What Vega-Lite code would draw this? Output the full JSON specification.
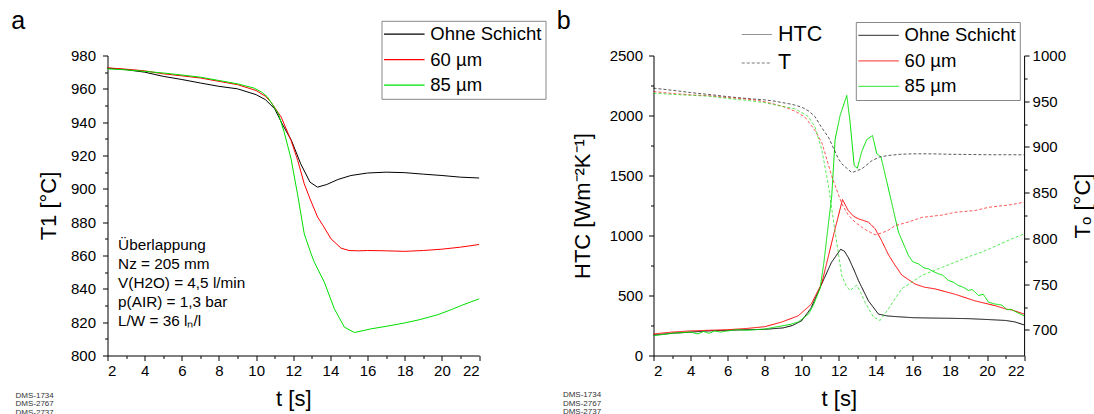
{
  "$schema": "https://vega.github.io/schema/vega-lite/v6.json",
  "padding": {"left": 10.5, "top": 8.5, "right": 0, "bottom": 0},
  "autosize": {"type": "pad"},
  "spacing": 174,
  "bounds": "flush",
  "config": {
    "font": "Liberation Sans",
    "view": {"stroke": null},
    "axis": {"domainColor": "#000", "tickColor": "#000", "labelColor": "#000", "titleColor": "#000", "grid": false, "labelFontSize": 15, "titleFontSize": 22, "titleFontWeight": "normal", "tickSize": 5, "format": "d", "labelFont": "Liberation Sans", "titleFont": "Liberation Sans"},
    "legend": {"labelFont": "Liberation Sans", "labelColor": "#000"}
  },
  "resolve": {"scale": {"color": "independent", "strokeDash": "independent"}, "legend": {"color": "independent", "strokeDash": "independent"}},
  "datasets": {
    "left": [
      {"t": 2.0, "T1": 972.4, "s": "Ohne Schicht"}, {"t": 3.0, "T1": 971.5, "s": "Ohne Schicht"}, {"t": 4.0, "T1": 970, "s": "Ohne Schicht"}, {"t": 5.0, "T1": 967.5, "s": "Ohne Schicht"}, {"t": 6.0, "T1": 965.6, "s": "Ohne Schicht"}, {"t": 7.0, "T1": 963.5, "s": "Ohne Schicht"}, {"t": 8.0, "T1": 961.5, "s": "Ohne Schicht"}, {"t": 9.0, "T1": 960, "s": "Ohne Schicht"}, {"t": 10.0, "T1": 956.5, "s": "Ohne Schicht"}, {"t": 10.5, "T1": 953.5, "s": "Ohne Schicht"}, {"t": 11.0, "T1": 948, "s": "Ohne Schicht"}, {"t": 11.4, "T1": 939, "s": "Ohne Schicht"}, {"t": 11.9, "T1": 929, "s": "Ohne Schicht"}, {"t": 12.4, "T1": 915, "s": "Ohne Schicht"}, {"t": 12.9, "T1": 904, "s": "Ohne Schicht"}, {"t": 13.3, "T1": 901, "s": "Ohne Schicht"}, {"t": 13.8, "T1": 902.6, "s": "Ohne Schicht"}, {"t": 14.4, "T1": 905.6, "s": "Ohne Schicht"}, {"t": 15.1, "T1": 908, "s": "Ohne Schicht"}, {"t": 16.0, "T1": 909.5, "s": "Ohne Schicht"}, {"t": 17.0, "T1": 910, "s": "Ohne Schicht"}, {"t": 18.0, "T1": 909.7, "s": "Ohne Schicht"}, {"t": 19.0, "T1": 908.8, "s": "Ohne Schicht"}, {"t": 20.0, "T1": 908, "s": "Ohne Schicht"}, {"t": 21.0, "T1": 907, "s": "Ohne Schicht"}, {"t": 22.0, "T1": 906.5, "s": "Ohne Schicht"},
      {"t": 2.0, "T1": 972.6, "s": "60 µm"}, {"t": 3.0, "T1": 971.8, "s": "60 µm"}, {"t": 4.0, "T1": 970.8, "s": "60 µm"}, {"t": 5.0, "T1": 969, "s": "60 µm"}, {"t": 6.0, "T1": 967.8, "s": "60 µm"}, {"t": 7.0, "T1": 966.5, "s": "60 µm"}, {"t": 8.0, "T1": 964.5, "s": "60 µm"}, {"t": 9.0, "T1": 962.5, "s": "60 µm"}, {"t": 10.0, "T1": 959, "s": "60 µm"}, {"t": 10.5, "T1": 955.5, "s": "60 µm"}, {"t": 10.8, "T1": 952, "s": "60 µm"}, {"t": 11.35, "T1": 943, "s": "60 µm"}, {"t": 11.88, "T1": 929, "s": "60 µm"}, {"t": 12.24, "T1": 917, "s": "60 µm"}, {"t": 12.59, "T1": 903, "s": "60 µm"}, {"t": 12.9, "T1": 894, "s": "60 µm"}, {"t": 13.31, "T1": 883, "s": "60 µm"}, {"t": 13.6, "T1": 878, "s": "60 µm"}, {"t": 14.03, "T1": 870, "s": "60 µm"}, {"t": 14.57, "T1": 864.4, "s": "60 µm"}, {"t": 15.0, "T1": 863, "s": "60 µm"}, {"t": 15.5, "T1": 862.8, "s": "60 µm"}, {"t": 16.0, "T1": 863, "s": "60 µm"}, {"t": 17.0, "T1": 862.8, "s": "60 µm"}, {"t": 18.0, "T1": 862.5, "s": "60 µm"}, {"t": 19.0, "T1": 863, "s": "60 µm"}, {"t": 20.0, "T1": 863.8, "s": "60 µm"}, {"t": 21.0, "T1": 865, "s": "60 µm"}, {"t": 22.0, "T1": 866.6, "s": "60 µm"},
      {"t": 2.0, "T1": 972, "s": "85 µm"}, {"t": 3.0, "T1": 971.4, "s": "85 µm"}, {"t": 4.0, "T1": 970.5, "s": "85 µm"}, {"t": 5.0, "T1": 969.5, "s": "85 µm"}, {"t": 6.0, "T1": 968.3, "s": "85 µm"}, {"t": 7.0, "T1": 967, "s": "85 µm"}, {"t": 8.0, "T1": 965, "s": "85 µm"}, {"t": 9.0, "T1": 963, "s": "85 µm"}, {"t": 9.9, "T1": 960.4, "s": "85 µm"}, {"t": 10.3, "T1": 958, "s": "85 µm"}, {"t": 10.62, "T1": 955, "s": "85 µm"}, {"t": 11.2, "T1": 945, "s": "85 µm"}, {"t": 11.51, "T1": 934, "s": "85 µm"}, {"t": 11.88, "T1": 918, "s": "85 µm"}, {"t": 12.24, "T1": 896, "s": "85 µm"}, {"t": 12.59, "T1": 873, "s": "85 µm"}, {"t": 12.96, "T1": 861, "s": "85 µm"}, {"t": 13.13, "T1": 856, "s": "85 µm"}, {"t": 13.67, "T1": 844, "s": "85 µm"}, {"t": 14.21, "T1": 828, "s": "85 µm"}, {"t": 14.75, "T1": 817, "s": "85 µm"}, {"t": 15.29, "T1": 813.8, "s": "85 µm"}, {"t": 16.19, "T1": 816, "s": "85 µm"}, {"t": 17.0, "T1": 817.5, "s": "85 µm"}, {"t": 17.98, "T1": 819.5, "s": "85 µm"}, {"t": 18.8, "T1": 821.5, "s": "85 µm"}, {"t": 19.78, "T1": 824.5, "s": "85 µm"}, {"t": 20.5, "T1": 827.5, "s": "85 µm"}, {"t": 21.04, "T1": 830, "s": "85 µm"}, {"t": 22.0, "T1": 834, "s": "85 µm"}
    ],
    "right": [
      {"t": 2.0, "v": 170, "s": "Ohne Schicht", "var": "HTC"}, {"t": 3.0, "v": 185, "s": "Ohne Schicht", "var": "HTC"}, {"t": 4.0, "v": 195, "s": "Ohne Schicht", "var": "HTC"}, {"t": 5.0, "v": 205, "s": "Ohne Schicht", "var": "HTC"}, {"t": 6.0, "v": 210, "s": "Ohne Schicht", "var": "HTC"}, {"t": 7.0, "v": 215, "s": "Ohne Schicht", "var": "HTC"}, {"t": 8.0, "v": 218, "s": "Ohne Schicht", "var": "HTC"}, {"t": 9.0, "v": 230, "s": "Ohne Schicht", "var": "HTC"}, {"t": 9.5, "v": 250, "s": "Ohne Schicht", "var": "HTC"}, {"t": 10.0, "v": 290, "s": "Ohne Schicht", "var": "HTC"}, {"t": 10.5, "v": 395, "s": "Ohne Schicht", "var": "HTC"}, {"t": 11.0, "v": 570, "s": "Ohne Schicht", "var": "HTC"}, {"t": 11.6, "v": 775, "s": "Ohne Schicht", "var": "HTC"}, {"t": 12.1, "v": 885, "s": "Ohne Schicht", "var": "HTC"}, {"t": 12.3, "v": 870, "s": "Ohne Schicht", "var": "HTC"}, {"t": 12.52, "v": 815, "s": "Ohne Schicht", "var": "HTC"}, {"t": 12.8, "v": 720, "s": "Ohne Schicht", "var": "HTC"}, {"t": 13.06, "v": 625, "s": "Ohne Schicht", "var": "HTC"}, {"t": 13.6, "v": 455, "s": "Ohne Schicht", "var": "HTC"}, {"t": 14.14, "v": 345, "s": "Ohne Schicht", "var": "HTC"}, {"t": 14.6, "v": 330, "s": "Ohne Schicht", "var": "HTC"}, {"t": 15.0, "v": 325, "s": "Ohne Schicht", "var": "HTC"}, {"t": 16.0, "v": 315, "s": "Ohne Schicht", "var": "HTC"}, {"t": 17.0, "v": 312, "s": "Ohne Schicht", "var": "HTC"}, {"t": 18.0, "v": 310, "s": "Ohne Schicht", "var": "HTC"}, {"t": 19.0, "v": 307, "s": "Ohne Schicht", "var": "HTC"}, {"t": 20.0, "v": 300, "s": "Ohne Schicht", "var": "HTC"}, {"t": 21.0, "v": 292, "s": "Ohne Schicht", "var": "HTC"}, {"t": 21.5, "v": 280, "s": "Ohne Schicht", "var": "HTC"}, {"t": 22.0, "v": 255, "s": "Ohne Schicht", "var": "HTC"},
      {"t": 2.0, "v": 180, "s": "60 µm", "var": "HTC"}, {"t": 3.0, "v": 195, "s": "60 µm", "var": "HTC"}, {"t": 4.0, "v": 205, "s": "60 µm", "var": "HTC"}, {"t": 5.0, "v": 210, "s": "60 µm", "var": "HTC"}, {"t": 6.0, "v": 215, "s": "60 µm", "var": "HTC"}, {"t": 7.0, "v": 225, "s": "60 µm", "var": "HTC"}, {"t": 8.0, "v": 240, "s": "60 µm", "var": "HTC"}, {"t": 8.9, "v": 278, "s": "60 µm", "var": "HTC"}, {"t": 9.8, "v": 330, "s": "60 µm", "var": "HTC"}, {"t": 10.5, "v": 425, "s": "60 µm", "var": "HTC"}, {"t": 11.08, "v": 600, "s": "60 µm", "var": "HTC"}, {"t": 11.6, "v": 930, "s": "60 µm", "var": "HTC"}, {"t": 11.8, "v": 1056, "s": "60 µm", "var": "HTC"}, {"t": 12.2, "v": 1300, "s": "60 µm", "var": "HTC"}, {"t": 12.5, "v": 1210, "s": "60 µm", "var": "HTC"}, {"t": 12.8, "v": 1160, "s": "60 µm", "var": "HTC"}, {"t": 13.06, "v": 1139, "s": "60 µm", "var": "HTC"}, {"t": 13.6, "v": 1111, "s": "60 µm", "var": "HTC"}, {"t": 13.96, "v": 1056, "s": "60 µm", "var": "HTC"}, {"t": 14.3, "v": 960, "s": "60 µm", "var": "HTC"}, {"t": 14.68, "v": 840, "s": "60 µm", "var": "HTC"}, {"t": 15.0, "v": 760, "s": "60 µm", "var": "HTC"}, {"t": 15.4, "v": 670, "s": "60 µm", "var": "HTC"}, {"t": 16.12, "v": 595, "s": "60 µm", "var": "HTC"}, {"t": 16.6, "v": 570, "s": "60 µm", "var": "HTC"}, {"t": 17.2, "v": 555, "s": "60 µm", "var": "HTC"}, {"t": 18.28, "v": 510, "s": "60 µm", "var": "HTC"}, {"t": 19.36, "v": 455, "s": "60 µm", "var": "HTC"}, {"t": 20.44, "v": 415, "s": "60 µm", "var": "HTC"}, {"t": 21.07, "v": 385, "s": "60 µm", "var": "HTC"}, {"t": 21.34, "v": 380, "s": "60 µm", "var": "HTC"}, {"t": 22.0, "v": 345, "s": "60 µm", "var": "HTC"},
      {"t": 2.0, "v": 165, "s": "85 µm", "var": "HTC"}, {"t": 2.5, "v": 175, "s": "85 µm", "var": "HTC"}, {"t": 3.0, "v": 185, "s": "85 µm", "var": "HTC"}, {"t": 3.5, "v": 190, "s": "85 µm", "var": "HTC"}, {"t": 4.0, "v": 195, "s": "85 µm", "var": "HTC"}, {"t": 4.4, "v": 180, "s": "85 µm", "var": "HTC"}, {"t": 4.7, "v": 200, "s": "85 µm", "var": "HTC"}, {"t": 5.0, "v": 185, "s": "85 µm", "var": "HTC"}, {"t": 5.3, "v": 205, "s": "85 µm", "var": "HTC"}, {"t": 5.6, "v": 195, "s": "85 µm", "var": "HTC"}, {"t": 6.0, "v": 205, "s": "85 µm", "var": "HTC"}, {"t": 6.5, "v": 215, "s": "85 µm", "var": "HTC"}, {"t": 7.0, "v": 210, "s": "85 µm", "var": "HTC"}, {"t": 7.5, "v": 215, "s": "85 µm", "var": "HTC"}, {"t": 8.0, "v": 220, "s": "85 µm", "var": "HTC"}, {"t": 8.5, "v": 235, "s": "85 µm", "var": "HTC"}, {"t": 8.9, "v": 245, "s": "85 µm", "var": "HTC"}, {"t": 9.4, "v": 260, "s": "85 µm", "var": "HTC"}, {"t": 9.82, "v": 280, "s": "85 µm", "var": "HTC"}, {"t": 10.36, "v": 345, "s": "85 µm", "var": "HTC"}, {"t": 10.63, "v": 420, "s": "85 µm", "var": "HTC"}, {"t": 10.99, "v": 560, "s": "85 µm", "var": "HTC"}, {"t": 11.2, "v": 780, "s": "85 µm", "var": "HTC"}, {"t": 11.44, "v": 1100, "s": "85 µm", "var": "HTC"}, {"t": 11.62, "v": 1330, "s": "85 µm", "var": "HTC"}, {"t": 11.8, "v": 1800, "s": "85 µm", "var": "HTC"}, {"t": 12.07, "v": 2000, "s": "85 µm", "var": "HTC"}, {"t": 12.43, "v": 2167, "s": "85 µm", "var": "HTC"}, {"t": 12.61, "v": 1944, "s": "85 µm", "var": "HTC"}, {"t": 12.83, "v": 1583, "s": "85 µm", "var": "HTC"}, {"t": 13.0, "v": 1560, "s": "85 µm", "var": "HTC"}, {"t": 13.24, "v": 1700, "s": "85 µm", "var": "HTC"}, {"t": 13.51, "v": 1800, "s": "85 µm", "var": "HTC"}, {"t": 13.82, "v": 1833, "s": "85 µm", "var": "HTC"}, {"t": 14.05, "v": 1681, "s": "85 µm", "var": "HTC"}, {"t": 14.28, "v": 1653, "s": "85 µm", "var": "HTC"}, {"t": 14.68, "v": 1389, "s": "85 µm", "var": "HTC"}, {"t": 15.22, "v": 1028, "s": "85 µm", "var": "HTC"}, {"t": 15.76, "v": 833, "s": "85 µm", "var": "HTC"}, {"t": 16.0, "v": 780, "s": "85 µm", "var": "HTC"}, {"t": 16.3, "v": 764, "s": "85 µm", "var": "HTC"}, {"t": 16.6, "v": 730, "s": "85 µm", "var": "HTC"}, {"t": 16.84, "v": 722, "s": "85 µm", "var": "HTC"}, {"t": 17.1, "v": 700, "s": "85 µm", "var": "HTC"}, {"t": 17.38, "v": 681, "s": "85 µm", "var": "HTC"}, {"t": 17.6, "v": 670, "s": "85 µm", "var": "HTC"}, {"t": 17.92, "v": 625, "s": "85 µm", "var": "HTC"}, {"t": 18.2, "v": 610, "s": "85 µm", "var": "HTC"}, {"t": 18.46, "v": 583, "s": "85 µm", "var": "HTC"}, {"t": 18.7, "v": 570, "s": "85 µm", "var": "HTC"}, {"t": 19.0, "v": 542, "s": "85 µm", "var": "HTC"}, {"t": 19.2, "v": 550, "s": "85 µm", "var": "HTC"}, {"t": 19.54, "v": 500, "s": "85 µm", "var": "HTC"}, {"t": 19.8, "v": 510, "s": "85 µm", "var": "HTC"}, {"t": 20.08, "v": 444, "s": "85 µm", "var": "HTC"}, {"t": 20.4, "v": 430, "s": "85 µm", "var": "HTC"}, {"t": 20.8, "v": 420, "s": "85 µm", "var": "HTC"}, {"t": 21.07, "v": 383, "s": "85 µm", "var": "HTC"}, {"t": 21.3, "v": 385, "s": "85 µm", "var": "HTC"}, {"t": 21.6, "v": 360, "s": "85 µm", "var": "HTC"}, {"t": 22.0, "v": 330, "s": "85 µm", "var": "HTC"},
      {"t": 2.0, "v": 964.3, "s": "Ohne Schicht", "var": "T"}, {"t": 3.0, "v": 962, "s": "Ohne Schicht", "var": "T"}, {"t": 4.0, "v": 959.5, "s": "Ohne Schicht", "var": "T"}, {"t": 5.0, "v": 957.4, "s": "Ohne Schicht", "var": "T"}, {"t": 6.0, "v": 955, "s": "Ohne Schicht", "var": "T"}, {"t": 7.0, "v": 953, "s": "Ohne Schicht", "var": "T"}, {"t": 8.0, "v": 951.5, "s": "Ohne Schicht", "var": "T"}, {"t": 8.56, "v": 950, "s": "Ohne Schicht", "var": "T"}, {"t": 9.5, "v": 946.5, "s": "Ohne Schicht", "var": "T"}, {"t": 10.0, "v": 943.5, "s": "Ohne Schicht", "var": "T"}, {"t": 10.4, "v": 939, "s": "Ohne Schicht", "var": "T"}, {"t": 10.72, "v": 933, "s": "Ohne Schicht", "var": "T"}, {"t": 11.08, "v": 921, "s": "Ohne Schicht", "var": "T"}, {"t": 11.44, "v": 910.7, "s": "Ohne Schicht", "var": "T"}, {"t": 11.98, "v": 887, "s": "Ohne Schicht", "var": "T"}, {"t": 12.16, "v": 881.6, "s": "Ohne Schicht", "var": "T"}, {"t": 12.7, "v": 872, "s": "Ohne Schicht", "var": "T"}, {"t": 13.24, "v": 876, "s": "Ohne Schicht", "var": "T"}, {"t": 13.78, "v": 885, "s": "Ohne Schicht", "var": "T"}, {"t": 14.2, "v": 889, "s": "Ohne Schicht", "var": "T"}, {"t": 14.68, "v": 890.7, "s": "Ohne Schicht", "var": "T"}, {"t": 15.3, "v": 892, "s": "Ohne Schicht", "var": "T"}, {"t": 16.0, "v": 892.5, "s": "Ohne Schicht", "var": "T"}, {"t": 17.0, "v": 892.5, "s": "Ohne Schicht", "var": "T"}, {"t": 18.0, "v": 892, "s": "Ohne Schicht", "var": "T"}, {"t": 19.0, "v": 891.8, "s": "Ohne Schicht", "var": "T"}, {"t": 20.0, "v": 891.5, "s": "Ohne Schicht", "var": "T"}, {"t": 21.0, "v": 891.5, "s": "Ohne Schicht", "var": "T"}, {"t": 22.0, "v": 891.4, "s": "Ohne Schicht", "var": "T"},
      {"t": 2.0, "v": 960.6, "s": "60 µm", "var": "T"}, {"t": 3.0, "v": 958.5, "s": "60 µm", "var": "T"}, {"t": 4.0, "v": 957, "s": "60 µm", "var": "T"}, {"t": 5.0, "v": 956, "s": "60 µm", "var": "T"}, {"t": 6.0, "v": 954, "s": "60 µm", "var": "T"}, {"t": 7.0, "v": 952.5, "s": "60 µm", "var": "T"}, {"t": 7.67, "v": 950.8, "s": "60 µm", "var": "T"}, {"t": 8.5, "v": 947, "s": "60 µm", "var": "T"}, {"t": 9.1, "v": 943.5, "s": "60 µm", "var": "T"}, {"t": 9.7, "v": 938.5, "s": "60 µm", "var": "T"}, {"t": 10.18, "v": 932.5, "s": "60 µm", "var": "T"}, {"t": 10.72, "v": 918, "s": "60 µm", "var": "T"}, {"t": 11.08, "v": 905, "s": "60 µm", "var": "T"}, {"t": 11.3, "v": 890, "s": "60 µm", "var": "T"}, {"t": 11.62, "v": 868, "s": "60 µm", "var": "T"}, {"t": 11.8, "v": 858, "s": "60 µm", "var": "T"}, {"t": 12.16, "v": 838, "s": "60 µm", "var": "T"}, {"t": 12.5, "v": 826, "s": "60 µm", "var": "T"}, {"t": 12.88, "v": 817.7, "s": "60 µm", "var": "T"}, {"t": 13.4, "v": 810, "s": "60 µm", "var": "T"}, {"t": 13.96, "v": 804, "s": "60 µm", "var": "T"}, {"t": 14.32, "v": 806, "s": "60 µm", "var": "T"}, {"t": 14.68, "v": 809, "s": "60 µm", "var": "T"}, {"t": 15.04, "v": 814, "s": "60 µm", "var": "T"}, {"t": 15.76, "v": 818, "s": "60 µm", "var": "T"}, {"t": 16.48, "v": 823, "s": "60 µm", "var": "T"}, {"t": 17.56, "v": 825.5, "s": "60 µm", "var": "T"}, {"t": 18.28, "v": 828.6, "s": "60 µm", "var": "T"}, {"t": 19.36, "v": 830.5, "s": "60 µm", "var": "T"}, {"t": 20.08, "v": 834, "s": "60 µm", "var": "T"}, {"t": 21.34, "v": 837, "s": "60 µm", "var": "T"}, {"t": 22.0, "v": 839.6, "s": "60 µm", "var": "T"},
      {"t": 2.0, "v": 958.8, "s": "85 µm", "var": "T"}, {"t": 3.0, "v": 957.5, "s": "85 µm", "var": "T"}, {"t": 4.0, "v": 956.5, "s": "85 µm", "var": "T"}, {"t": 5.0, "v": 955.5, "s": "85 µm", "var": "T"}, {"t": 6.0, "v": 953, "s": "85 µm", "var": "T"}, {"t": 7.0, "v": 951, "s": "85 µm", "var": "T"}, {"t": 8.0, "v": 948.5, "s": "85 µm", "var": "T"}, {"t": 8.56, "v": 946, "s": "85 µm", "var": "T"}, {"t": 9.64, "v": 941.7, "s": "85 µm", "var": "T"}, {"t": 10.36, "v": 933.3, "s": "85 µm", "var": "T"}, {"t": 10.72, "v": 921.6, "s": "85 µm", "var": "T"}, {"t": 11.08, "v": 897, "s": "85 µm", "var": "T"}, {"t": 11.35, "v": 868, "s": "85 µm", "var": "T"}, {"t": 11.44, "v": 858, "s": "85 µm", "var": "T"}, {"t": 11.8, "v": 807, "s": "85 µm", "var": "T"}, {"t": 12.16, "v": 759.5, "s": "85 µm", "var": "T"}, {"t": 12.4, "v": 748, "s": "85 µm", "var": "T"}, {"t": 12.61, "v": 743, "s": "85 µm", "var": "T"}, {"t": 12.97, "v": 749, "s": "85 µm", "var": "T"}, {"t": 13.2, "v": 740, "s": "85 µm", "var": "T"}, {"t": 13.42, "v": 730, "s": "85 µm", "var": "T"}, {"t": 13.87, "v": 714, "s": "85 µm", "var": "T"}, {"t": 14.23, "v": 710.3, "s": "85 µm", "var": "T"}, {"t": 14.68, "v": 723, "s": "85 µm", "var": "T"}, {"t": 15.0, "v": 733, "s": "85 µm", "var": "T"}, {"t": 15.4, "v": 745, "s": "85 µm", "var": "T"}, {"t": 16.0, "v": 753, "s": "85 µm", "var": "T"}, {"t": 16.48, "v": 759.5, "s": "85 µm", "var": "T"}, {"t": 17.4, "v": 767, "s": "85 µm", "var": "T"}, {"t": 18.28, "v": 774, "s": "85 µm", "var": "T"}, {"t": 19.0, "v": 780, "s": "85 µm", "var": "T"}, {"t": 19.72, "v": 785, "s": "85 µm", "var": "T"}, {"t": 20.5, "v": 792, "s": "85 µm", "var": "T"}, {"t": 21.34, "v": 799.6, "s": "85 µm", "var": "T"}, {"t": 22.0, "v": 805, "s": "85 µm", "var": "T"}
    ]
  },
  "hconcat": [
    {
      "width": 371.6,
      "height": 300,
      "resolve": {"axis": {"x": "independent", "y": "independent"}},
      "layer": [
        {
          "data": {"name": "left"},
          "mark": {"type": "line", "strokeWidth": 1},
          "encoding": {
            "x": {"field": "t", "type": "quantitative", "scale": {"domain": [2, 22], "nice": false, "zero": false}, "axis": {"orient": "bottom", "values": [2, 4, 6, 8, 10, 12, 14, 16, 18, 20, 22], "title": "t [s]", "labelPadding": 3, "titlePadding": 10}},
            "y": {"field": "T1", "type": "quantitative", "scale": {"domain": [800, 980], "nice": false, "zero": false}, "axis": {"orient": "left", "values": [800, 820, 840, 860, 880, 900, 920, 940, 960, 980], "title": "T1 [°C]", "labelPadding": 7, "titlePadding": 10}},
            "color": {"field": "s", "type": "nominal", "scale": {"domain": ["Ohne Schicht", "60 µm", "85 µm"], "range": ["#000000", "#ff0000", "#00e000"]},
              "legend": {"orient": "none", "legendX": 274, "legendY": -34.7, "title": null, "symbolType": "M-1.27,0H3.5", "symbolSize": 289, "symbolStrokeWidth": 1.2, "labelFontSize": 18.5, "labelOffset": 26, "padding": 3.8, "rowPadding": 6.5, "strokeColor": "#888888", "labelLimit": 300}}
          }
        },
        {
          "data": {"values": [{"t": 2.57, "T1": 863.4, "label": "Überlappung\nNz = 205 mm\nV(H2O) = 4,5 l/min\np(AIR) = 1,3 bar\nL/W = 36 lₙ/l"}]},
          "mark": {"type": "text", "align": "left", "baseline": "alphabetic", "lineBreak": "\n", "lineHeight": 19, "fontSize": 15.3, "color": "#000"},
          "encoding": {
            "x": {"field": "t", "type": "quantitative", "scale": {"domain": [2, 22], "nice": false, "zero": false}, "axis": {"orient": "bottom", "values": [3, 5, 7, 9, 11, 13, 15, 17, 19, 21], "labels": false, "domain": false, "title": null, "tickSize": 3}},
            "y": {"field": "T1", "type": "quantitative", "scale": {"domain": [800, 980], "nice": false, "zero": false}, "axis": {"orient": "left", "values": [810, 830, 850, 870, 890, 910, 930, 950, 970], "labels": false, "domain": false, "title": null, "tickSize": 3}},
            "text": {"field": "label"}
          }
        },
        {
          "data": {"values": [{"t": -3.18, "T1": 995.9, "label": "a"}]},
          "mark": {"type": "text", "align": "left", "baseline": "alphabetic", "fontSize": 25, "color": "#000"},
          "encoding": {
            "x": {"field": "t", "type": "quantitative", "scale": {"domain": [2, 22], "nice": false, "zero": false}, "axis": null},
            "y": {"field": "T1", "type": "quantitative", "scale": {"domain": [800, 980], "nice": false, "zero": false}, "axis": null},
            "text": {"field": "label"}
          }
        },
        {
          "data": {"values": [{"t": -2.95, "T1": 774.8, "label": "DMS-1734\nDMS-2767\nDMS-2737"}]},
          "mark": {"type": "text", "align": "left", "baseline": "alphabetic", "lineBreak": "\n", "lineHeight": 8.5, "fontSize": 8, "color": "#333333"},
          "encoding": {
            "x": {"field": "t", "type": "quantitative", "scale": {"domain": [2, 22], "nice": false, "zero": false}, "axis": null},
            "y": {"field": "T1", "type": "quantitative", "scale": {"domain": [800, 980], "nice": false, "zero": false}, "axis": null},
            "text": {"field": "label"}
          }
        }
      ]
    },
    {
      "width": 370.6,
      "height": 300,
      "resolve": {"scale": {"y": "independent"}, "axis": {"x": "independent", "y": "independent"}},
      "layer": [
        {
          "data": {"name": "right"},
          "transform": [{"filter": "datum.var === 'HTC'"}],
          "mark": {"type": "line", "strokeWidth": 1},
          "encoding": {
            "x": {"field": "t", "type": "quantitative", "scale": {"domain": [2, 22], "nice": false, "zero": false}, "axis": {"orient": "bottom", "values": [2, 4, 6, 8, 10, 12, 14, 16, 18, 20, 22], "title": "t [s]", "labelPadding": 3, "titlePadding": 10}},
            "y": {"field": "v", "type": "quantitative", "scale": {"domain": [0, 2500], "nice": false}, "axis": {"orient": "left", "values": [0, 500, 1000, 1500, 2000, 2500], "title": "HTC [Wm⁻²K⁻¹]", "labelPadding": 6, "titlePadding": 15}},
            "color": {"field": "s", "type": "nominal", "scale": {"domain": ["Ohne Schicht", "60 µm", "85 µm"], "range": ["#000000", "#ff0000", "#00e000"]},
              "legend": {"orient": "none", "legendX": 202.3, "legendY": -33.5, "title": null, "symbolType": "M-1.27,0H3.5", "symbolSize": 289, "symbolStrokeWidth": 1.2, "symbolDash": [1, 0], "labelFontSize": 18.5, "labelOffset": 26, "padding": 3.8, "rowPadding": 6.5, "strokeColor": "#888888", "labelLimit": 300}},
            "strokeDash": {"field": "var", "type": "nominal", "scale": {"domain": ["HTC", "T"], "range": [[1, 0], [3, 2]]},
              "legend": {"orient": "none", "legendX": 86, "legendY": -31.75, "title": null, "symbolType": "M-1,0H2.53", "symbolSize": 289, "symbolStrokeWidth": 1, "symbolStrokeColor": "#333333", "labelFontSize": 21.5, "labelOffset": 17, "padding": 0, "rowPadding": 5.5, "labelLimit": 300}}
          }
        },
        {
          "data": {"name": "right"},
          "transform": [{"filter": "datum.var === 'T'"}],
          "mark": {"type": "line", "strokeWidth": 1, "opacity": 0.65},
          "encoding": {
            "x": {"field": "t", "type": "quantitative", "scale": {"domain": [2, 22], "nice": false, "zero": false}, "axis": null},
            "y": {"field": "v", "type": "quantitative", "scale": {"domain": [672, 1000], "nice": false, "zero": false}, "axis": {"orient": "right", "values": [700, 750, 800, 850, 900, 950, 1000], "title": "Tₒ [°C]", "titleAngle": 270, "titleBaseline": "top", "labelPadding": 3, "titlePadding": 7}},
            "color": {"field": "s", "type": "nominal", "scale": {"domain": ["Ohne Schicht", "60 µm", "85 µm"], "range": ["#000000", "#ff0000", "#00e000"]},
              "legend": {"orient": "none", "legendX": 202.3, "legendY": -33.5, "title": null, "symbolType": "M-1.27,0H3.5", "symbolSize": 289, "symbolStrokeWidth": 1.2, "symbolDash": [1, 0], "labelFontSize": 18.5, "labelOffset": 26, "padding": 3.8, "rowPadding": 6.5, "strokeColor": "#888888", "labelLimit": 300}},
            "strokeDash": {"field": "var", "type": "nominal", "scale": {"domain": ["HTC", "T"], "range": [[1, 0], [3, 2]]},
              "legend": {"orient": "none", "legendX": 86, "legendY": -31.75, "title": null, "symbolType": "M-1,0H2.53", "symbolSize": 289, "symbolStrokeWidth": 1, "symbolStrokeColor": "#333333", "labelFontSize": 21.5, "labelOffset": 17, "padding": 0, "rowPadding": 5.5, "labelLimit": 300}}
          }
        },
        {
          "data": {"values": [{"t": -3.22, "v": 2716.7, "label": "b"}]},
          "mark": {"type": "text", "align": "left", "baseline": "alphabetic", "fontSize": 25, "color": "#000"},
          "encoding": {
            "x": {"field": "t", "type": "quantitative", "scale": {"domain": [2, 22], "nice": false, "zero": false}, "axis": {"orient": "bottom", "values": [3, 5, 7, 9, 11, 13, 15, 17, 19, 21], "labels": false, "domain": false, "title": null, "tickSize": 3}},
            "y": {"field": "v", "type": "quantitative", "scale": {"domain": [0, 2500], "nice": false}, "axis": {"orient": "left", "values": [250, 750, 1250, 1750, 2250], "labels": false, "domain": false, "title": null, "tickSize": 3}},
            "text": {"field": "label"}
          }
        },
        {
          "data": {"values": [{"t": -2.89, "v": 626.1, "label": "DMS-1734\nDMS-2767\nDMS-2737"}]},
          "mark": {"type": "text", "align": "left", "baseline": "alphabetic", "lineBreak": "\n", "lineHeight": 8.5, "fontSize": 8, "color": "#333333"},
          "encoding": {
            "x": {"field": "t", "type": "quantitative", "scale": {"domain": [2, 22], "nice": false, "zero": false}, "axis": null},
            "y": {"field": "v", "type": "quantitative", "scale": {"domain": [672, 1000], "nice": false, "zero": false}, "axis": {"orient": "right", "values": [725, 775, 825, 875, 925, 975], "labels": false, "domain": false, "title": null, "tickSize": 3}},
            "text": {"field": "label"}
          }
        }
      ]
    }
  ]
}
